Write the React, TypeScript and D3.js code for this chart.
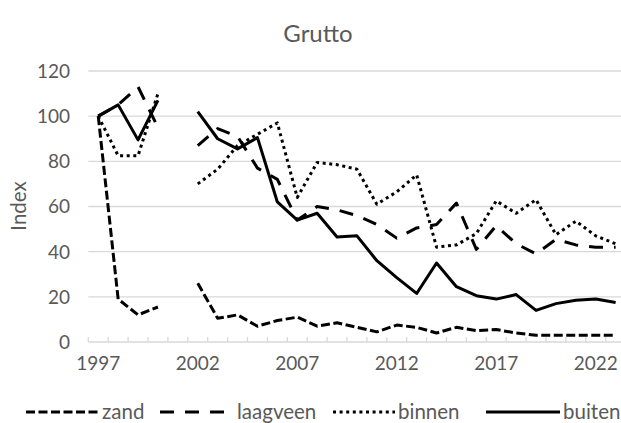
import React from 'react';
import * as d3 from 'd3';

const width = 621;
const height = 423;

const years = d3.range(1997, 2024);
const yTicks = [0, 20, 40, 60, 80, 100, 120];
const xLabels = [1997, 2002, 2007, 2012, 2017, 2022];

// null = geen telling in 2001
const zand = [100, 19, 12, 15.5, null, 26, 10.5, 12, 7, 9.5, 11, 7, 8.5, 6.5, 4.5, 7.5, 6.5, 4, 6.5, 5, 5.5, 4, 3, 3, 3, 3, 3];
const laagveen = [100, 105, 113, 95, null, 87, 94.5, 91, 77, 72, 54, 60, 58.5, 56, 52, 46, 50.5, 52, 61.5, 41, 51.5, 43.5, 39, 45.5, 43, 42, 42];
const binnen = [100, 82.5, 82.5, 110, null, 70, 76.5, 87, 92, 97, 64, 79.5, 78.5, 76.5, 61, 66.5, 74, 42, 43, 48, 62.5, 57, 63, 47.5, 53.5, 47, 43.5];
const buiten = [100, 105, 89.5, 107, null, 102, 90, 85.5, 90.5, 62, 54, 57, 46.5, 47, 36, 28.5, 21.5, 35, 24.5, 20.5, 19, 21, 14, 17, 18.5, 19, 17.5];

const series = [
  { name: 'zand', values: zand, dash: '9,3.5', lx: [26, 100], tx: 102 },
  { name: 'laagveen', values: laagveen, dash: '14,11', lx: [160, 232], tx: 237 },
  { name: 'binnen', values: binnen, dash: '3,3.6', lx: [333, 395], tx: 398 },
  { name: 'buiten', values: buiten, dash: null, lx: [486, 560], tx: 563 },
];

const font = 'Lato, "Open Sans", sans-serif';
const textColor = '#595959';
const gridColor = '#d9d9d9';

export default function App() {
  const x = d3.scaleBand<number>().domain(years).range([88.3, 625.6]).padding(0);
  const y = d3.scaleLinear().domain([0, 120]).range([342, 71]);
  const cx = (yr: number) => (x(yr) as number) + x.bandwidth() / 2;

  const line = d3
    .line<number | null>()
    .defined((d) => d != null)
    .x((_, i) => cx(years[i]))
    .y((d) => y(d as number));

  return (
    <svg width={width} height={height} style={{ position: 'absolute', left: 0, top: 0, background: '#fff' }} fontFamily={font}>
      <text x={318} y={42} textAnchor="middle" fontSize={24} fill={textColor}>Grutto</text>

      {yTicks.filter((t) => t > 0).map((t) => (
        <line key={t} x1={88.3} x2={625.6} y1={y(t)} y2={y(t)} stroke={gridColor} strokeWidth={1.3} />
      ))}
      {yTicks.map((t) => (
        <text key={'l' + t} x={70} y={y(t)} dy="0.36em" textAnchor="end" fontSize={19} fill={textColor}>{t}</text>
      ))}

      <line x1={88.3} x2={625.6} y1={y(0)} y2={y(0)} stroke={gridColor} strokeWidth={1.3} />
      {years.map((yr) => (
        <line key={'t' + yr} x1={x(yr) as number} x2={x(yr) as number} y1={y(0)} y2={y(0) - 5} stroke={gridColor} strokeWidth={1.3} />
      ))}
      {xLabels.map((yr) => (
        <text key={'x' + yr} x={cx(yr)} y={369.5} textAnchor="middle" fontSize={19} fill={textColor}>{yr}</text>
      ))}

      <text transform={`translate(26,206) rotate(-90)`} textAnchor="middle" fontSize={20.5} fill={textColor}>Index</text>

      {series.map((s) => (
        <path key={s.name} d={line(s.values) || ''} fill="none" stroke="#000" strokeWidth={3}
          strokeDasharray={s.dash || undefined} strokeLinejoin="round" />
      ))}

      {series.map((s) => (
        <g key={'lg' + s.name}>
          <line x1={s.lx[0]} x2={s.lx[1]} y1={412} y2={412} stroke="#000" strokeWidth={3} strokeDasharray={s.dash || undefined} />
          <text x={s.tx} y={412} dy="0.36em" fontSize={20.5} fill={textColor}>{s.name}</text>
        </g>
      ))}
    </svg>
  );
}
